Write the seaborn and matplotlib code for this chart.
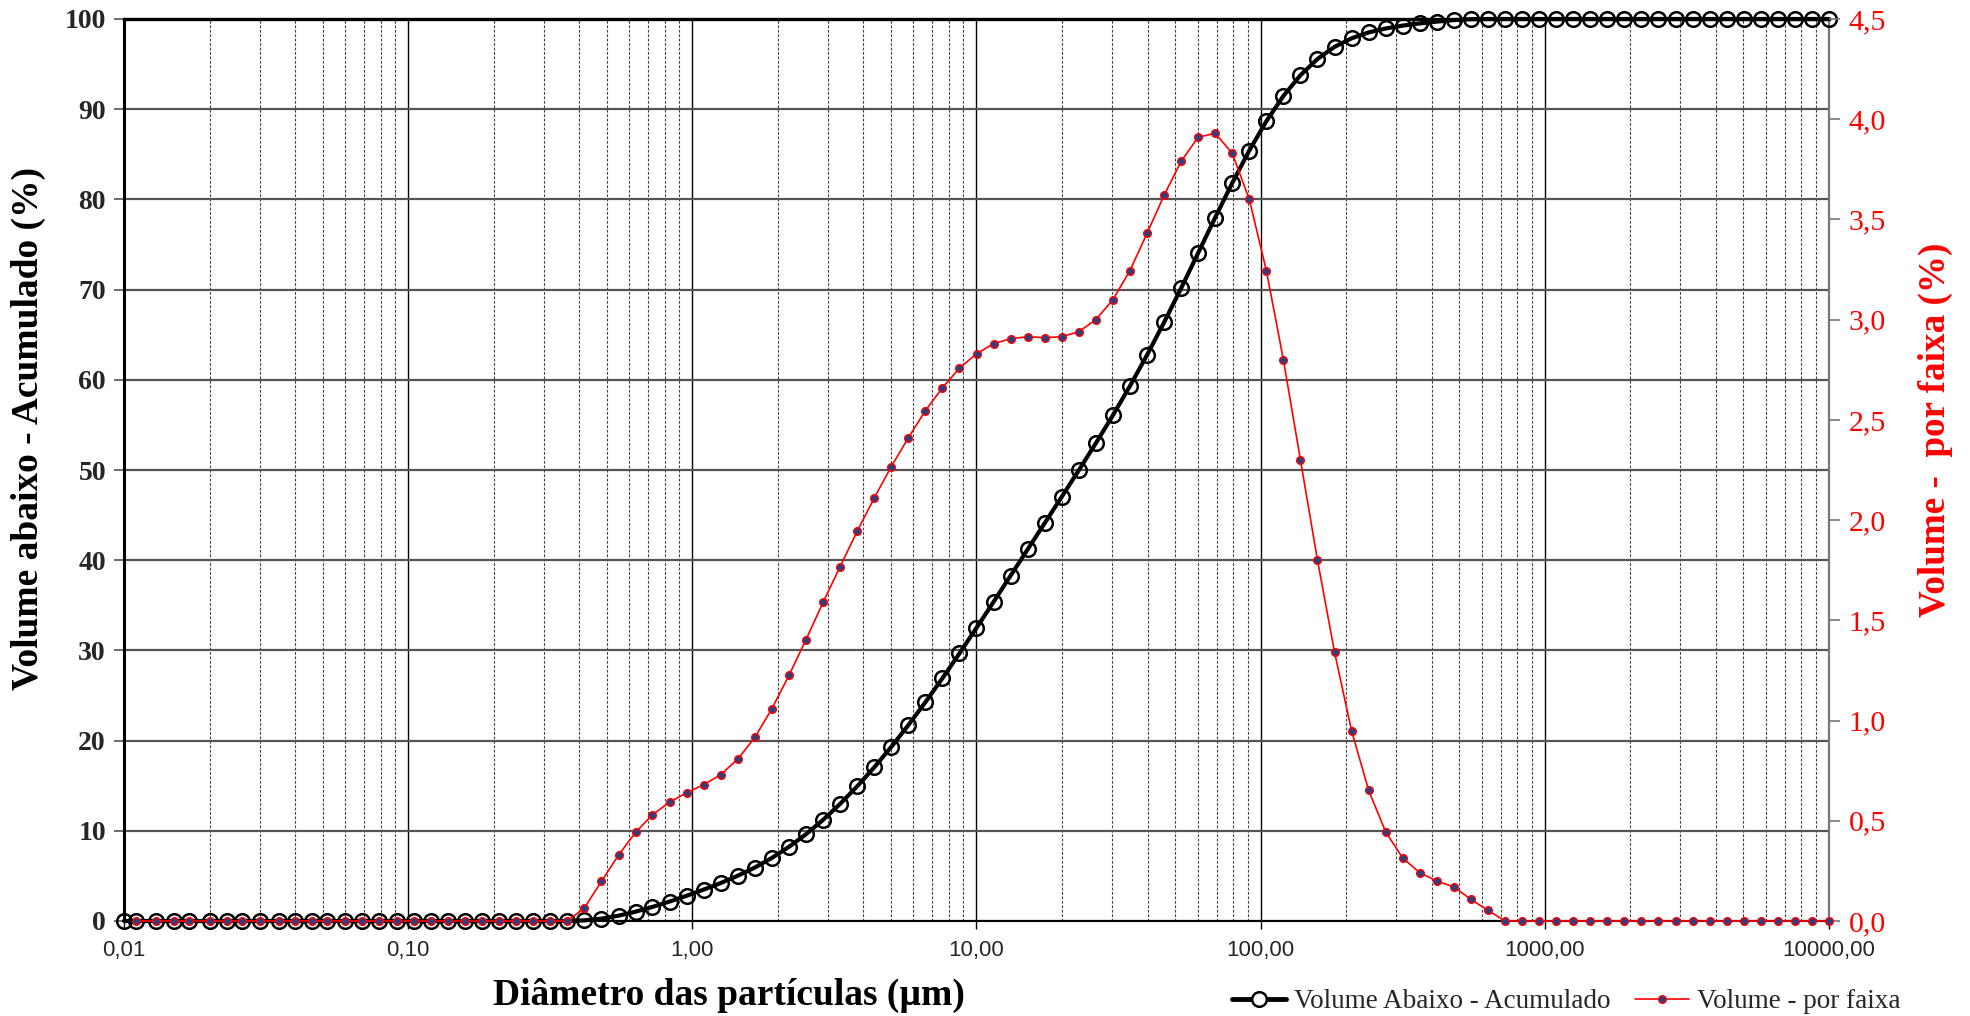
import matplotlib
matplotlib.use("Agg")
import matplotlib.pyplot as plt
from matplotlib.ticker import FixedLocator, FixedFormatter, LogLocator, NullFormatter
from matplotlib.lines import Line2D
import pandas as pd
import seaborn as sns

# Particle size classes (µm)
diametro = [
    0.010, 0.011, 0.013, 0.015, 0.017, 0.020, 0.023, 0.026, 0.030, 0.035,
    0.040, 0.046, 0.052, 0.060, 0.069, 0.079, 0.091, 0.105, 0.120, 0.138,
    0.158, 0.182, 0.209, 0.240, 0.275, 0.316, 0.363, 0.417, 0.479, 0.550,
    0.631, 0.724, 0.832, 0.955, 1.096, 1.259, 1.445, 1.660, 1.905, 2.188,
    2.512, 2.884, 3.311, 3.802, 4.365, 5.012, 5.754, 6.607, 7.586, 8.710,
    10.000, 11.482, 13.183, 15.136, 17.378, 19.953, 22.909, 26.303, 30.200, 34.674,
    39.811, 45.709, 52.481, 60.256, 69.183, 79.433, 91.201, 104.713, 120.226, 138.038,
    158.489, 181.970, 208.930, 239.883, 275.423, 316.228, 363.078, 416.869, 478.630, 549.541,
    630.957, 724.436, 831.764, 954.993, 1096.478, 1258.925, 1445.440, 1659.587, 1905.461, 2187.762,
    2511.886, 2884.032, 3311.311, 3801.894, 4365.158, 5011.872, 5754.399, 6606.934, 7585.776, 8709.636,
    10000.000,
]

# Cumulative volume below each size (%)
volume_acumulado = (
    [0.0] * 27
    + [0.07, 0.26, 0.59, 1.03, 1.56, 2.16, 2.80, 3.48, 4.21, 5.02,
       5.93, 6.99, 8.22, 9.62, 11.21, 12.98, 14.92, 17.03, 19.30, 21.71,
       24.25, 26.91, 29.67, 32.50, 35.38, 38.29, 41.20, 44.11, 47.03, 49.97,
       52.97, 56.07, 59.31, 62.74, 66.36, 70.15, 74.06, 77.99, 81.82, 85.42,
       88.67, 91.47, 93.77, 95.57, 96.91, 97.86, 98.51, 98.95, 99.27, 99.51,
       99.71, 99.88, 99.98, 100.00]
    + [100.0] * 20
)

# Volume per size class (%), one value per class upper limit
volume_faixa = (
    [0.0] * 26
    + [0.065, 0.198, 0.329, 0.442, 0.530, 0.593, 0.640, 0.680, 0.730, 0.808,
       0.916, 1.059, 1.225, 1.404, 1.589, 1.768, 1.944, 2.110, 2.267, 2.410,
       2.546, 2.660, 2.758, 2.830, 2.880, 2.905, 2.915, 2.910, 2.915, 2.940,
       3.000, 3.100, 3.245, 3.430, 3.620, 3.790, 3.910, 3.930, 3.830, 3.600,
       3.245, 2.800, 2.300, 1.800, 1.341, 0.949, 0.652, 0.444, 0.314, 0.241,
       0.199, 0.170, 0.108, 0.053]
    + [0.0] * 20
)

x_ticks = [0.01, 0.1, 1, 10, 100, 1000, 10000]
x_tick_labels = ["0,01", "0,10", "1,00", "10,00", "100,00", "1000,00", "10000,00"]
y_left_ticks = list(range(0, 101, 10))
y_right_ticks = [0.0, 0.5, 1.0, 1.5, 2.0, 2.5, 3.0, 3.5, 4.0, 4.5]
y_right_labels = ["0,0", "0,5", "1,0", "1,5", "2,0", "2,5", "3,0", "3,5", "4,0", "4,5"]

df_acum = pd.DataFrame({"d": diametro, "v": volume_acumulado})
df_faixa = pd.DataFrame({"d": diametro[1:], "v": volume_faixa})

sns.set_theme(style="white")
SERIF = "Liberation Serif"
SANS = "Liberation Sans"
plt.rcParams["font.family"] = [SERIF, "DejaVu Serif"]

W, H = 1970, 1016
L, R, T, B = 124, 1829, 19, 921
fig = plt.figure(figsize=(W / 100, H / 100), dpi=100)
ax = fig.add_axes([L / W, 1 - B / H, (R - L) / W, (B - T) / H])

sns.lineplot(
    data=df_acum, x="d", y="v", ax=ax, sort=False, estimator=None,
    color="black", linewidth=3.0, marker="o", markersize=10.5,
    markerfacecolor="none", markeredgecolor="black", markeredgewidth=1.8,
    clip_on=False, zorder=3,
)
ax.set_xscale("log")
ax.set_xlim(0.01, 10000)
ax.set_ylim(0, 100)

# Secondary axis for the per-class volume
ax2 = ax.twinx()
sns.lineplot(
    data=df_faixa, x="d", y="v", ax=ax2, sort=False, estimator=None,
    color="#ff0000", linewidth=1.2, marker="o", markersize=5.5,
    markerfacecolor="#2e3f80", markeredgecolor="#ff0000", markeredgewidth=1.0,
    clip_on=False, zorder=4,
)
ax2.set_xscale("log")
ax2.set_xlim(0.01, 10000)
ax2.set_ylim(0, 4.5)

# X ticks and grid: solid decades, dashed intermediate values
ax.xaxis.set_major_locator(FixedLocator(x_ticks))
ax.xaxis.set_major_formatter(FixedFormatter(x_tick_labels))
ax.xaxis.set_minor_locator(LogLocator(base=10, subs=range(2, 10), numticks=100))
ax.xaxis.set_minor_formatter(NullFormatter())
ax.grid(which="major", axis="x", color="black", linewidth=1.0, linestyle="-")
ax.grid(which="minor", axis="x", color="#444444", linewidth=0.8, linestyle=(0, (2.5, 1.5)))
ax.grid(which="major", axis="y", color="#555555", linewidth=1.6, linestyle="-")
ax.set_axisbelow(True)

ax.set_yticks(y_left_ticks)
ax.set_yticklabels([str(t) for t in y_left_ticks])
for lab in ax.get_yticklabels():
    lab.set_fontfamily(SERIF)
    lab.set_fontweight("bold")
    lab.set_fontsize(20)
for lab in ax.get_xticklabels():
    lab.set_fontfamily(SANS)
    lab.set_fontsize(16)

ax.tick_params(axis="y", which="major", direction="out", length=7, width=1.2,
               color="#555555", pad=6, left=True)
ax.tick_params(axis="x", which="major", direction="out", length=6, width=1.0,
               color="black", pad=8, bottom=True)
ax.tick_params(axis="x", which="minor", length=0)

ax.spines["left"].set_color("black")
ax.spines["left"].set_linewidth(2.2)
ax.spines["bottom"].set_color("black")
ax.spines["bottom"].set_linewidth(1.5)
ax.spines["top"].set_color("black")
ax.spines["top"].set_linewidth(2.4)
ax.spines["right"].set_color("#777777")
ax.spines["right"].set_linewidth(1.6)

ax.set_xlabel("Diâmetro das partículas (µm)", fontsize=27, fontweight="bold",
              fontfamily=SERIF, color="black")
ax.xaxis.set_label_coords((729 - L) / (R - L), (B - 1005) / (B - T))
ax.xaxis.label.set_verticalalignment("baseline")

ax.set_ylabel("Volume abaixo - Acumulado (%)", fontsize=27, fontweight="bold",
              fontfamily=SERIF, color="black")
ax.yaxis.set_label_coords((46 - L) / (R - L), 0.546)

ax2.set_yticks(y_right_ticks)
ax2.set_yticklabels(y_right_labels)
for lab in ax2.get_yticklabels():
    lab.set_fontfamily(SERIF)
    lab.set_fontsize(21.5)
    lab.set_color("#ff0000")
ax2.tick_params(axis="y", direction="out", length=8, width=1.2, color="#777777",
                pad=6, right=True)
ax2.grid(False)
for s in ax2.spines.values():
    s.set_visible(False)
ax2.set_ylabel("Volume -  por faixa (%)", fontsize=26.7, fontweight="bold",
               fontfamily=SERIF, color="#ff0000")
ax2.yaxis.set_label_coords((1918 - L) / (R - L), 0.544)

handles = [
    Line2D([], [], color="black", linewidth=3.5, marker="o", markersize=10.5,
           markerfacecolor="white", markeredgecolor="black", markeredgewidth=1.8),
    Line2D([], [], color="#ff0000", linewidth=1.2, marker="o", markersize=5.5,
           markerfacecolor="#2e3f80", markeredgecolor="#ff0000"),
]
fig.legend(handles, ["Volume Abaixo - Acumulado", "Volume - por faixa"],
           loc="center left", bbox_to_anchor=(1232 / W, 1 - 1002 / H),
           ncol=2, frameon=False, prop={"family": SERIF, "size": 19.5},
           handlelength=2.0, handletextpad=0.3, columnspacing=0.9,
           borderpad=0.0, borderaxespad=0.0)

fig.savefig("out.png", dpi=100, facecolor="white")
